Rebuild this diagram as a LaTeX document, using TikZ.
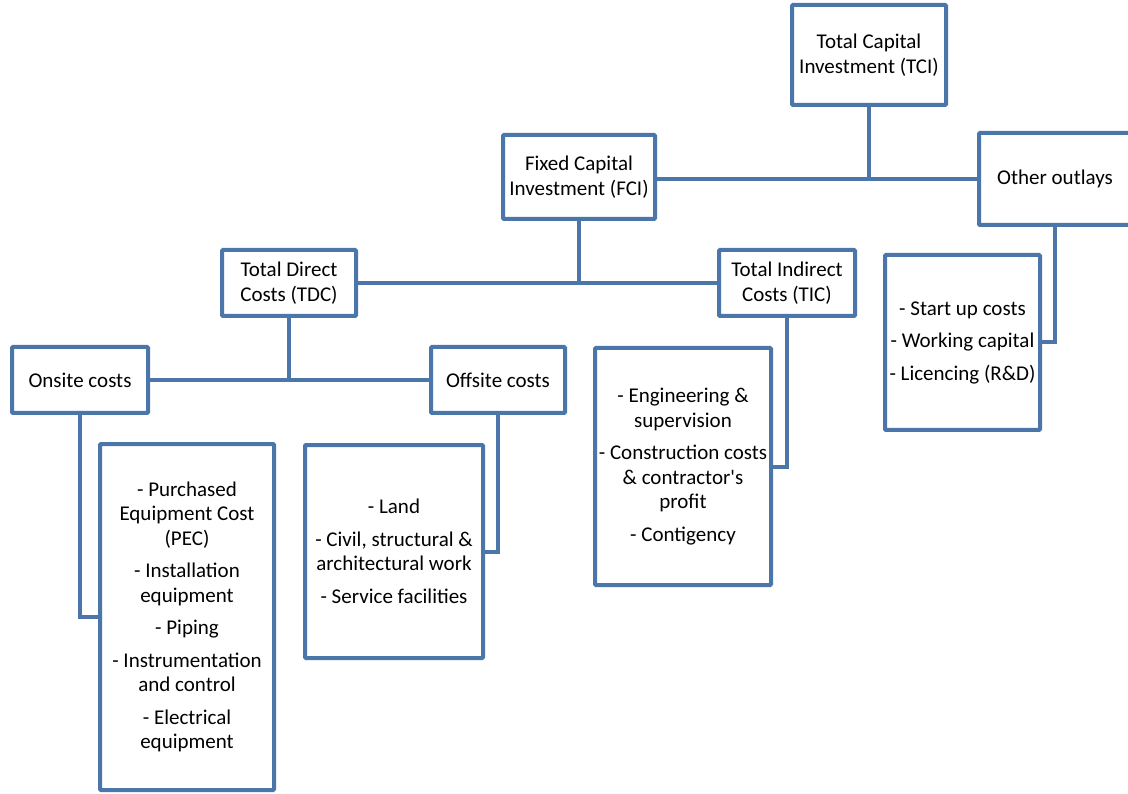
\documentclass[tikz,border=0pt]{standalone}
\usepackage{fontspec}
\newfontfamily\calfont{Carlito}
\definecolor{bx}{RGB}{74,118,170}
\newcommand{\fsz}{\calfont\fontsize{21}{24.5}\selectfont}
\begin{document}
\begin{tikzpicture}[x=1pt,y=-1pt,
  box/.style={draw=bx, line width=4pt, align=center, inner sep=0pt, font=\fsz, fill=white, rounded corners=1pt},
  conn/.style={draw=bx, line width=4pt}]
\useasboundingbox (0,0) rectangle (1128,794);
\node[box, minimum width=154pt, minimum height=100pt] (TCI) at (869,55) {Total Capital\\Investment (TCI)};
\node[box, minimum width=152pt, minimum height=92pt] (OTH) at (1055,179) {Other outlays};
\node[box, minimum width=152pt, minimum height=84pt] (FCI) at (579,177) {Fixed Capital\\Investment (FCI)};
\node[box, minimum width=134pt, minimum height=66pt] (TDC) at (289,283) {Total Direct\\Costs (TDC)};
\node[box, minimum width=136pt, minimum height=66pt] (TIC) at (787,283) {Total Indirect\\Costs (TIC)};
\node[box, minimum width=136pt, minimum height=66pt] (ON) at (80,380) {Onsite costs};
\node[box, minimum width=134pt, minimum height=66pt] (OFF) at (498,380) {Offsite costs};
\node[box, minimum width=174pt, minimum height=346pt] (PEC) at (187,617) {- Purchased\\Equipment Cost\\(PEC)\\[8pt]- Installation\\equipment\\[8pt]- Piping\\[8pt]- Instrumentation\\and control\\[8pt]- Electrical\\equipment};
\node[box, minimum width=178pt, minimum height=213pt] (LAND) at (394,551.5) {- Land\\[8pt]- Civil, structural \&\\architectural work\\[8pt]- Service facilities};
\node[box, minimum width=176pt, minimum height=237pt] (ENG) at (683,466.5) {- Engineering \&\\supervision\\[8pt]- Construction costs\\\& contractor's\\profit\\[8pt]- Contigency};
\node[box, minimum width=155pt, minimum height=175pt] (SU) at (962.5,342.5) {- Start up costs\\[8pt]- Working capital\\[8pt]- Licencing (R\&D)};
\draw[conn] (TCI.south) -- (TCI.south |- OTH.west);
\draw[conn] (FCI.east |- OTH.west) -- (OTH.west);
\draw[conn] (FCI.south) -- (FCI.south |- TDC.east);
\draw[conn] (TDC.east) -- (TIC.west);
\draw[conn] (TDC.south) -- (TDC.south |- ON.east);
\draw[conn] (ON.east) -- (OFF.west);
\draw[conn] (ON.south) |- (PEC.west);
\draw[conn] (OFF.south) |- (LAND.east);
\draw[conn] (TIC.south) |- (ENG.east);
\draw[conn] (OTH.south) |- (SU.east);
\end{tikzpicture}
\end{document}
